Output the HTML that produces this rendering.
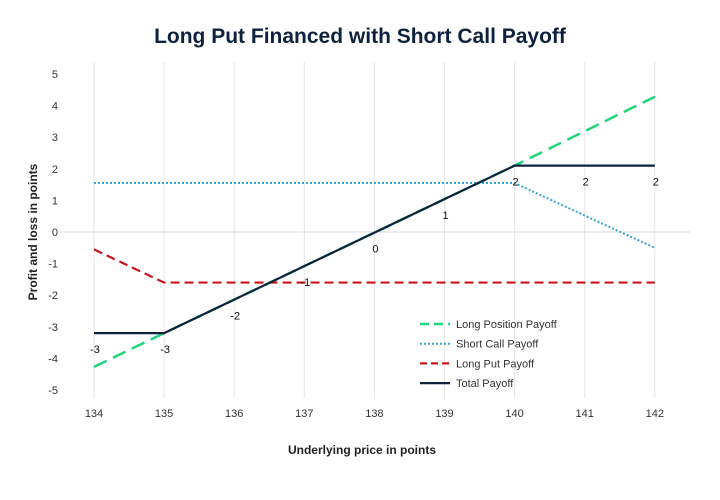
<!DOCTYPE html>
<html><head><meta charset="utf-8"><style>
body{margin:0;background:#fff;}
svg{display:block;font-family:"Liberation Sans",sans-serif;}
</style></head><body>
<svg id="c" width="720" height="500">
<text x="360" y="43" text-anchor="middle" font-size="21" font-weight="bold" fill="#0e2240">Long Put Financed with Short Call Payoff</text>
<text x="362" y="454" text-anchor="middle" font-size="12" font-weight="bold" fill="#222">Underlying price in points</text>
<text transform="translate(37,232) rotate(-90)" text-anchor="middle" font-size="12" font-weight="bold" fill="#222">Profit and loss in points</text>
<g id="grid"></g><g id="series"></g><g id="labels"></g><g id="legend"></g>
</svg>
<script>
const xCats=[134,135,136,137,138,139,140,141,142];
const yTicks=[5,4,3,2,1,0,-1,-2,-3,-4,-5];
const longPos=[-4.27,-3.2,-2.14,-1.08,-0.02,1.04,2.1,3.19,4.28];
const shortCall=[1.55,1.55,1.55,1.55,1.55,1.55,1.55,0.52,-0.5];
const longPut=[-0.55,-1.6,-1.6,-1.6,-1.6,-1.6,-1.6,-1.6,-1.6];
const total=[-3.2,-3.2,-2.14,-1.08,-0.02,1.04,2.1,2.1,2.1];
const totalLabels=["-3","-3","-2","-1","0","1","2","2","2"];
const NS="http://www.w3.org/2000/svg";
const X=v=>94+(v-134)*70.1;
const Y=v=>232-v*31.6;
function mk(t,a,p){const e=document.createElementNS(NS,t);for(const k in a)e.setAttribute(k,a[k]);p.appendChild(e);return e;}
const grid=document.getElementById('grid'),ser=document.getElementById('series'),lab=document.getElementById('labels'),leg=document.getElementById('legend');
xCats.forEach(c=>{
 const l=mk('line',{x1:X(c),x2:X(c),y1:62,y2:398,stroke:'#e6e6e6','stroke-width':1},grid);
 
 
 const t=mk('text',{x:X(c),y:417,'text-anchor':'middle','font-size':11,fill:'#333'},grid);t.textContent=c;
 
 
});
const z=mk('line',{x1:60,x2:690,y1:Y(0),y2:Y(0),stroke:'#d8d8d8','stroke-width':1},grid);


yTicks.forEach(v=>{
 const t=mk('text',{x:58,y:Y(v)+4,'text-anchor':'end','font-size':11,fill:'#333'},grid);t.textContent=v;
 
 
});
function line(vals,color,dash,w,name){
 const p=mk('polyline',{points:vals.map((v,i)=>X(xCats[i])+','+Y(v)).join(' '),fill:'none',stroke:color,'stroke-width':w,'stroke-dasharray':dash},ser);
 
 
}
line(longPos,'#1fd67a','14,7',2.5,'long-position-line');
line(shortCall,'#3aa3d0','2,2',2,'short-call-line');
line(longPut,'#c8141e','9,5',2.2,'long-put-line');
line(total,'#0e2240','none',2.2,'total-payoff-line');
total.forEach((v,i)=>{
 const t=mk('text',{x:X(xCats[i])+1,y:Y(v)+20,'text-anchor':'middle','font-size':11,fill:'#111'},lab);t.textContent=totalLabels[i];
 
 
});
const items=[['Long Position Payoff','#1fd67a','9,5',2.5],['Short Call Payoff','#3aa3d0','2,2',2],['Long Put Payoff','#c8141e','7,4',2.2],['Total Payoff','#0e2240','none',2.2]];
items.forEach((it,i)=>{
 const y=324+i*19.7;
 const g=mk('g',{},leg);
 
 
 mk('line',{x1:420,x2:450,y1:y,y2:y,stroke:it[1],'stroke-width':it[3],'stroke-dasharray':it[2]},g);
 const t=mk('text',{x:456,y:y+4,'font-size':11,fill:'#333'},g);t.textContent=it[0];
});
</script>
</body></html>
